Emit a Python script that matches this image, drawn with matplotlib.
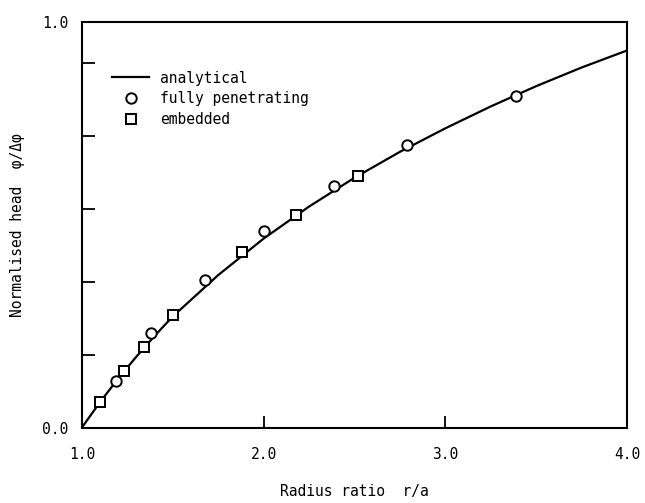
import matplotlib
matplotlib.use("Agg")
import matplotlib.pyplot as plt
from matplotlib.lines import Line2D

# analytical curve
curve_x = [1.0, 1.1, 1.2, 1.3, 1.4, 1.5, 1.75, 2.0, 2.25, 2.5, 2.75, 3.0, 3.25, 3.5, 3.75, 4.0]
curve_y = [0.0, 0.063, 0.121, 0.175, 0.226, 0.274, 0.376, 0.466, 0.545, 0.616, 0.680, 0.738, 0.792, 0.842, 0.888, 0.930]

# fully penetrating (circles)
full_x = [1.19, 1.38, 1.68, 2.00, 2.39, 2.79, 3.39]
full_y = [0.114, 0.233, 0.365, 0.485, 0.596, 0.697, 0.818]

# embedded (squares)
emb_x = [1.10, 1.23, 1.34, 1.50, 1.88, 2.18, 2.52]
emb_y = [0.063, 0.139, 0.198, 0.278, 0.432, 0.525, 0.621]

x_ticks = [1.0, 2.0, 3.0, 4.0]
x_ticklabels = ["1.0", "2.0", "3.0", "4.0"]
y_ticks = [0.0, 0.18, 0.36, 0.54, 0.72, 0.90, 1.0]
y_ticklabels = ["0.0", "", "", "", "", "", "1.0"]

plt.rcParams['font.family'] = ['DejaVu Sans Mono', 'DejaVu Sans']

fig = plt.figure(figsize=(6.45, 5.03), dpi=100)
ax = fig.add_axes([0.127, 0.15, 0.845, 0.806])

ax.plot(curve_x, curve_y, color='black', lw=1.6, zorder=2)
ax.plot(full_x, full_y, 'o', ms=7.5, mfc='white', mec='black', mew=1.4, zorder=3)
ax.plot(emb_x, emb_y, 's', ms=7.5, mfc='white', mec='black', mew=1.4, zorder=3)

ax.set_xlim(1.0, 4.0)
ax.set_ylim(0.0, 1.0)
ax.set_xticks(x_ticks)
ax.set_xticklabels(x_ticklabels, fontsize=10.5)
ax.set_yticks(y_ticks)
ax.set_yticklabels(y_ticklabels, fontsize=10.5)
ax.tick_params(direction='in', length=9, width=1.3, pad=14)
ax.tick_params(axis='y', pad=10)
for s in ax.spines.values():
    s.set_linewidth(1.5)

ax.set_xlabel("Radius ratio  r/a", fontsize=10.5, labelpad=16)
ax.set_ylabel("Normalised head  φ/Δφ", fontsize=10.5, labelpad=12)

handles = [
    Line2D([], [], color='black', lw=1.6),
    Line2D([], [], ls='none', marker='o', ms=7.5, mfc='white', mec='black', mew=1.4),
    Line2D([], [], ls='none', marker='s', ms=7.5, mfc='white', mec='black', mew=1.4),
]
ax.legend(handles, ["analytical", "fully penetrating", "embedded"], loc='upper left',
          bbox_to_anchor=(0.045, 0.895), frameon=False, fontsize=10.5,
          handlelength=2.5, handletextpad=0.8, labelspacing=0.4, borderaxespad=0)

fig.savefig("out.png", dpi=100)
